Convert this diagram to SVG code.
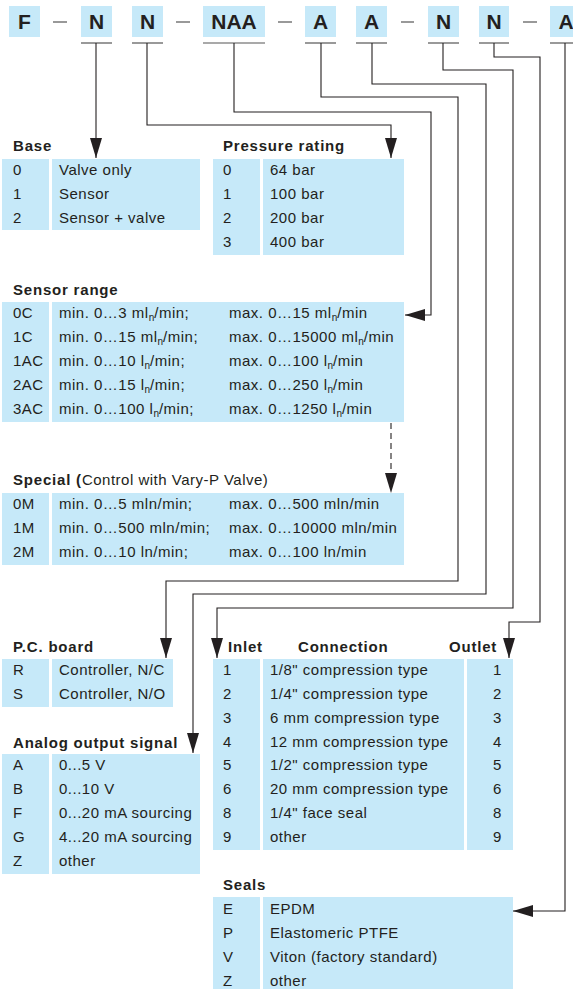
<svg xmlns="http://www.w3.org/2000/svg" width="573" height="989" viewBox="0 0 573 989">
<style>
text{font-family:"Liberation Sans",Arial,sans-serif;fill:#231f20;font-size:15px;letter-spacing:0.5px}
.h{font-weight:bold;font-size:21px;text-anchor:middle;letter-spacing:0}
.t{font-weight:bold;letter-spacing:0.8px}
.c{fill:#c6e9f9}
.bar{stroke:#555;stroke-width:1.2;fill:none}
.ln{stroke:#231f20;stroke-width:1.1;fill:none}
.sub{font-size:10px;letter-spacing:0}
</style>
<defs>
<marker id="ah" markerUnits="userSpaceOnUse" markerWidth="20" markerHeight="12" refX="20" refY="6" orient="auto">
<path d="M0,0 L20,6 L0,12 z" fill="#231f20"/>
</marker>
</defs>
<rect width="573" height="989" fill="#fff"/>

<g id="header">
<rect class="c" x="9" y="6" width="31" height="31"/><text class="h" x="24.5" y="29">F</text>
<line class="bar" x1="53" y1="22" x2="67" y2="22"/>
<rect class="c" x="81" y="6" width="31" height="31"/><text class="h" x="96.5" y="29">N</text>
<rect class="c" x="132" y="6" width="31" height="31"/><text class="h" x="147.5" y="29">N</text>
<line class="bar" x1="176" y1="22" x2="190" y2="22"/>
<rect class="c" x="203" y="6" width="62" height="31"/><text class="h" x="234" y="29">NAA</text>
<line class="bar" x1="278" y1="22" x2="292" y2="22"/>
<rect class="c" x="305" y="6" width="31" height="31"/><text class="h" x="320.5" y="29">A</text>
<rect class="c" x="356" y="6" width="31" height="31"/><text class="h" x="371.5" y="29">A</text>
<line class="bar" x1="401" y1="22" x2="414" y2="22"/>
<rect class="c" x="428" y="6" width="31" height="31"/><text class="h" x="443.5" y="29">N</text>
<rect class="c" x="479" y="6" width="30" height="31"/><text class="h" x="494" y="29">N</text>
<line class="bar" x1="523" y1="22" x2="537" y2="22"/>
<rect class="c" x="550" y="6" width="31" height="31"/><text class="h" x="566" y="29">A</text>
<line class="bar" x1="81" y1="43" x2="112" y2="43"/>
<line class="bar" x1="132" y1="43" x2="163" y2="43"/>
<line class="bar" x1="203" y1="43" x2="265" y2="43"/>
<line class="bar" x1="305" y1="43" x2="336" y2="43"/>
<line class="bar" x1="356" y1="43" x2="387" y2="43"/>
<line class="bar" x1="428" y1="43" x2="459" y2="43"/>
<line class="bar" x1="479" y1="43" x2="509" y2="43"/>
<line class="bar" x1="550" y1="43" x2="581" y2="43"/>
</g>

<g id="connectors">
<path class="ln" d="M96,43 V158" marker-end="url(#ah)"/>
<path class="ln" d="M147,43 V125 H391 V158" marker-end="url(#ah)"/>
<path class="ln" d="M234,43 V112 H431 V315 H405" marker-end="url(#ah)"/>
<path class="ln" d="M321,43 V97 H458 V581 H166 V658" marker-end="url(#ah)"/>
<path class="ln" d="M372,43 V84 H486 V594 H193 V753" marker-end="url(#ah)"/>
<path class="ln" d="M443,43 V70 H513 V608 H217 V658" marker-end="url(#ah)"/>
<path class="ln" d="M494,43 V57 H540 V622 H509 V658" marker-end="url(#ah)"/>
<path class="ln" d="M565,43 V911 H513" marker-end="url(#ah)"/>
<path class="ln" d="M391,423 V493" stroke-dasharray="6,4" marker-end="url(#ah)"/>
</g>

<g id="base">
<text class="t" x="13" y="151">Base</text>
<rect class="c" x="2" y="159" width="47" height="71"/>
<rect class="c" x="52" y="159" width="148" height="71"/>
<text x="13" y="175">0</text><text x="59" y="175">Valve only</text>
<text x="13" y="199">1</text><text x="59" y="199">Sensor</text>
<text x="13" y="223">2</text><text x="59" y="223">Sensor + valve</text>
</g>

<g id="pressure">
<text class="t" x="223" y="151">Pressure rating</text>
<rect class="c" x="213" y="159" width="47" height="96"/>
<rect class="c" x="263" y="159" width="141" height="96"/>
<text x="223" y="175">0</text><text x="270" y="175">64 bar</text>
<text x="223" y="199">1</text><text x="270" y="199">100 bar</text>
<text x="223" y="223">2</text><text x="270" y="223">200 bar</text>
<text x="223" y="247">3</text><text x="270" y="247">400 bar</text>
</g>

<g id="sensor">
<text class="t" x="13" y="295">Sensor range</text>
<rect class="c" x="2" y="302" width="47" height="120"/>
<rect class="c" x="52" y="302" width="352" height="120"/>
<text x="13" y="318">0C</text>
<text x="59" y="318">min. 0…3 ml<tspan class="sub" dy="3">n</tspan><tspan dy="-3">/min;</tspan></text>
<text x="229" y="318">max. 0…15 ml<tspan class="sub" dy="3">n</tspan><tspan dy="-3">/min</tspan></text>
<text x="13" y="342">1C</text>
<text x="59" y="342">min. 0…15 ml<tspan class="sub" dy="3">n</tspan><tspan dy="-3">/min;</tspan></text>
<text x="229" y="342">max. 0…15000 ml<tspan class="sub" dy="3">n</tspan><tspan dy="-3">/min</tspan></text>
<text x="13" y="366">1AC</text>
<text x="59" y="366">min. 0…10 l<tspan class="sub" dy="3">n</tspan><tspan dy="-3">/min;</tspan></text>
<text x="229" y="366">max. 0…100 l<tspan class="sub" dy="3">n</tspan><tspan dy="-3">/min</tspan></text>
<text x="13" y="390">2AC</text>
<text x="59" y="390">min. 0…15 l<tspan class="sub" dy="3">n</tspan><tspan dy="-3">/min;</tspan></text>
<text x="229" y="390">max. 0…250 l<tspan class="sub" dy="3">n</tspan><tspan dy="-3">/min</tspan></text>
<text x="13" y="414">3AC</text>
<text x="59" y="414">min. 0…100 l<tspan class="sub" dy="3">n</tspan><tspan dy="-3">/min;</tspan></text>
<text x="229" y="414">max. 0…1250 l<tspan class="sub" dy="3">n</tspan><tspan dy="-3">/min</tspan></text>
</g>

<g id="special">
<text x="13" y="485"><tspan class="t">Special (</tspan>Control with Vary-P Valve)</text>
<rect class="c" x="2" y="493" width="47" height="72"/>
<rect class="c" x="52" y="493" width="352" height="72"/>
<text x="13" y="509">0M</text><text x="59" y="509">min. 0…5 mln/min;</text><text x="229" y="509">max. 0…500 mln/min</text>
<text x="13" y="533">1M</text><text x="59" y="533">min. 0…500 mln/min;</text><text x="229" y="533">max. 0…10000 mln/min</text>
<text x="13" y="557">2M</text><text x="59" y="557">min. 0…10 ln/min;</text><text x="229" y="557">max. 0…100 ln/min</text>
</g>

<g id="pcboard">
<text class="t" x="13" y="652">P.C. board</text>
<rect class="c" x="2" y="659" width="47" height="48"/>
<rect class="c" x="52" y="659" width="121" height="48"/>
<text x="13" y="675">R</text><text x="59" y="675">Controller, N/C</text>
<text x="13" y="699">S</text><text x="59" y="699">Controller, N/O</text>
</g>

<g id="analog">
<text class="t" x="13" y="748">Analog output signal</text>
<rect class="c" x="2" y="754" width="47" height="120"/>
<rect class="c" x="52" y="754" width="148" height="120"/>
<text x="13" y="770">A</text><text x="59" y="770">0...5 V</text>
<text x="13" y="794">B</text><text x="59" y="794">0...10 V</text>
<text x="13" y="818">F</text><text x="59" y="818">0...20 mA sourcing</text>
<text x="13" y="842">G</text><text x="59" y="842">4...20 mA sourcing</text>
<text x="13" y="866">Z</text><text x="59" y="866">other</text>
</g>

<g id="connection">
<text class="t" x="228" y="652">Inlet</text>
<text class="t" x="298" y="652">Connection</text>
<text class="t" x="449" y="652">Outlet</text>
<rect class="c" x="213" y="659" width="47" height="191"/>
<rect class="c" x="263" y="659" width="201" height="191"/>
<rect class="c" x="467" y="659" width="46" height="191"/>
<text x="223" y="675">1</text><text x="270" y="675">1/8" compression type</text><text x="493" y="675">1</text>
<text x="223" y="699">2</text><text x="270" y="699">1/4" compression type</text><text x="493" y="699">2</text>
<text x="223" y="723">3</text><text x="270" y="723">6 mm compression type</text><text x="493" y="723">3</text>
<text x="223" y="747">4</text><text x="270" y="747">12 mm compression type</text><text x="493" y="747">4</text>
<text x="223" y="770">5</text><text x="270" y="770">1/2" compression type</text><text x="493" y="770">5</text>
<text x="223" y="794">6</text><text x="270" y="794">20 mm compression type</text><text x="493" y="794">6</text>
<text x="223" y="818">8</text><text x="270" y="818">1/4" face seal</text><text x="493" y="818">8</text>
<text x="223" y="842">9</text><text x="270" y="842">other</text><text x="493" y="842">9</text>
</g>

<g id="seals">
<text class="t" x="223" y="890">Seals</text>
<rect class="c" x="213" y="897" width="47" height="92"/>
<rect class="c" x="263" y="897" width="250" height="92"/>
<text x="223" y="914">E</text><text x="270" y="914">EPDM</text>
<text x="223" y="938">P</text><text x="270" y="938">Elastomeric PTFE</text>
<text x="223" y="962">V</text><text x="270" y="962">Viton (factory standard)</text>
<text x="223" y="986">Z</text><text x="270" y="986">other</text>
</g>
</svg>
